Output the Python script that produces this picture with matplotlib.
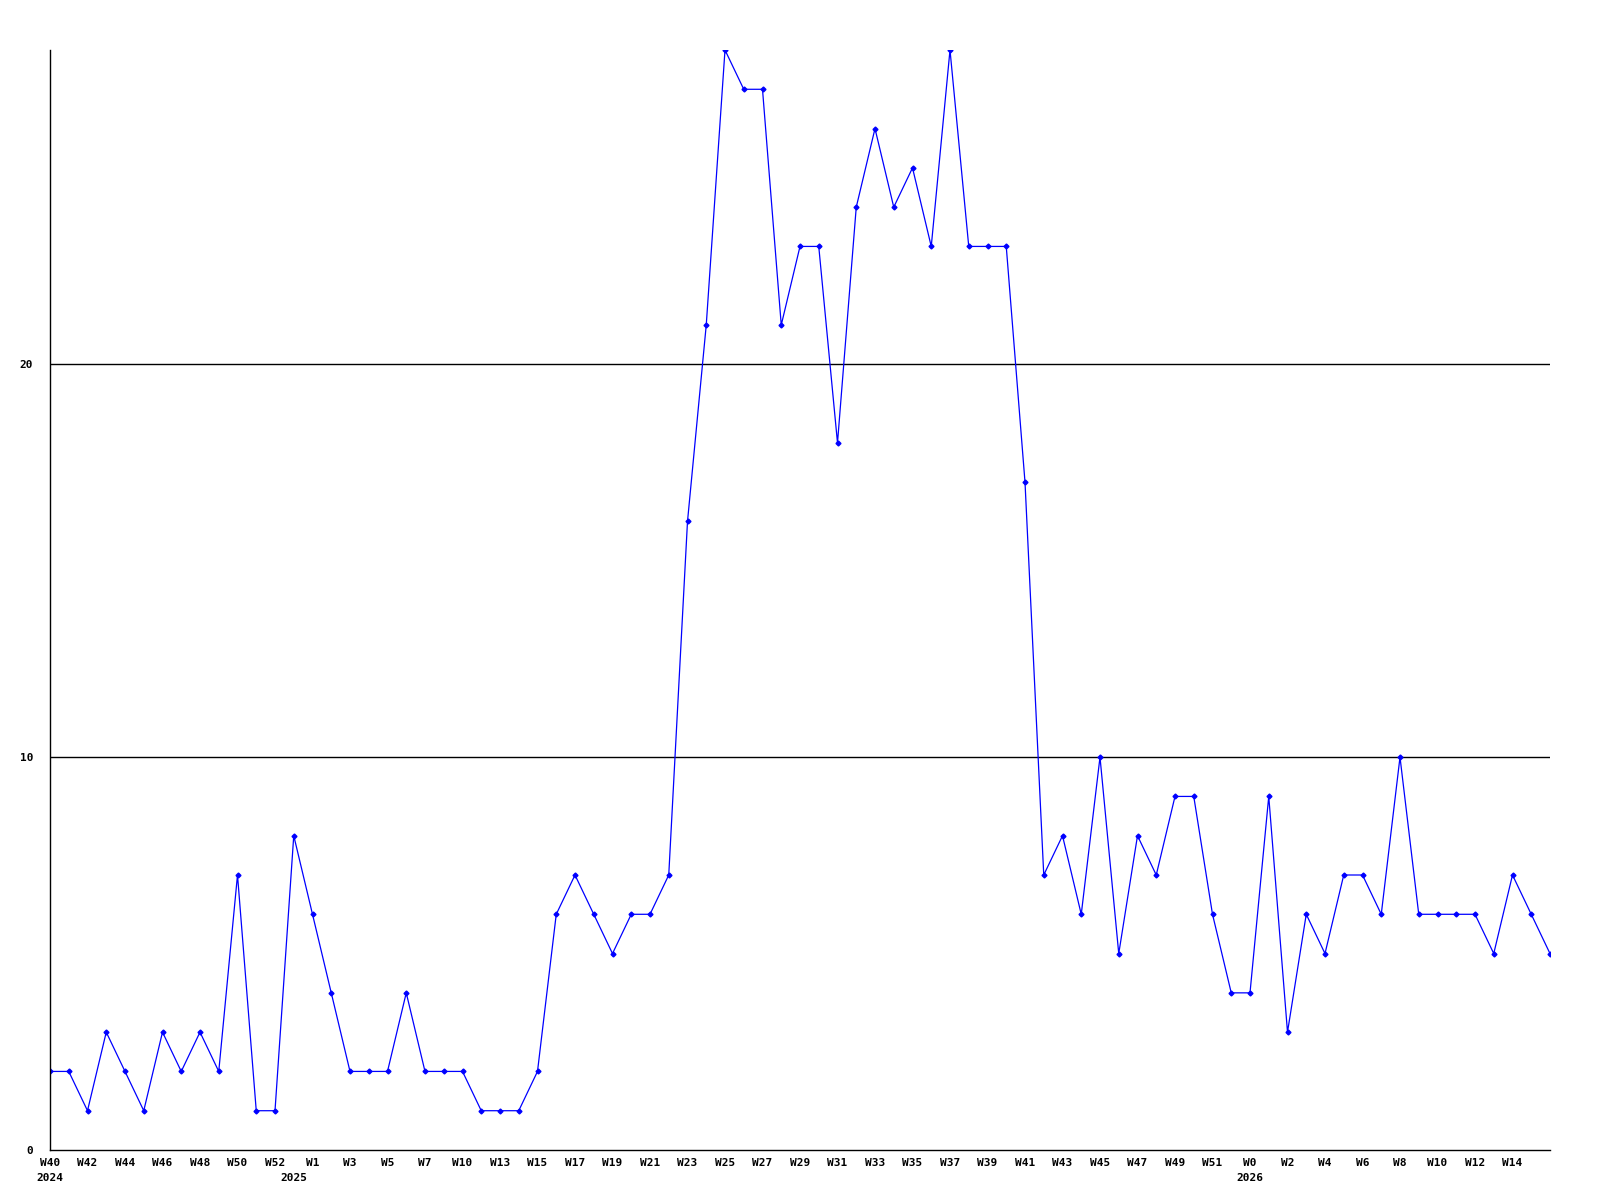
import matplotlib
matplotlib.use("Agg")
from matplotlib import pyplot as plt
from matplotlib import transforms

# weekly values, W40 2024 onward
values = [2, 2, 1, 3, 2, 1, 3, 2, 3, 2,
          7, 1, 1, 8, 6, 4, 2, 2, 2, 4,
          2, 2, 2, 1, 1, 1, 2, 6, 7, 6,
          5, 6, 6, 7, 16, 21, 28, 27, 27, 21,
          23, 23, 18, 24, 26, 24, 25, 23, 28, 23,
          23, 23, 17, 7, 8, 6, 10, 5, 8, 7,
          9, 9, 6, 4, 4, 9, 3, 6, 5, 7,
          7, 6, 10, 6, 6, 6, 6, 5, 7, 6,
          5]

# labels shown under every second point
week_labels = ["W40", "W42", "W44", "W46", "W48", "W50", "W52", "W1",
               "W3", "W5", "W7", "W10", "W13", "W15", "W17", "W19",
               "W21", "W23", "W25", "W27", "W29", "W31", "W33", "W35",
               "W37", "W39", "W41", "W43", "W45", "W47", "W49", "W51",
               "W0", "W2", "W4", "W6", "W8", "W10", "W12", "W14"]

years = ["2024", "2025", "2026"]
year_pos = [0, 13, 64]

font = {"family": "DejaVu Sans Mono", "weight": "bold", "size": 8}

fig = plt.figure(figsize=(16, 12), dpi=100)
ax = fig.add_axes([50 / 1600, 50 / 1200, 1500 / 1600, 1100 / 1200])

x = list(range(len(values)))
ax.plot(x, values, color="#0000ff", linewidth=0.9, marker="D",
        markersize=2.5, clip_on=True)

ax.set_xlim(0, len(values) - 1)
ax.set_ylim(0, 28)

ax.set_yticks([0, 10, 20])
ax.set_yticklabels(["0", "10", "20"], fontdict=font)
ax.tick_params(axis="y", length=0, pad=12)
for yv in [10, 20]:
    ax.axhline(yv, color="black", linewidth=1, zorder=0)

ax.set_xticks(list(range(0, 2 * len(week_labels), 2)))
ax.set_xticklabels(week_labels, fontdict=font)
ax.tick_params(axis="x", length=0, pad=6)

# year labels under the first week of each year
trans = transforms.blended_transform_factory(ax.transData, fig.transFigure)
for pos, yr in zip(year_pos, years):
    ax.text(pos, 1 - 1178 / 1200, yr, transform=trans, ha="center",
            va="center", fontdict=font, clip_on=False)

for side in ["top", "right"]:
    ax.spines[side].set_visible(False)
for side in ["left", "bottom"]:
    ax.spines[side].set_linewidth(1)
    ax.spines[side].set_color("black")

plt.savefig("out.png", dpi=100)
